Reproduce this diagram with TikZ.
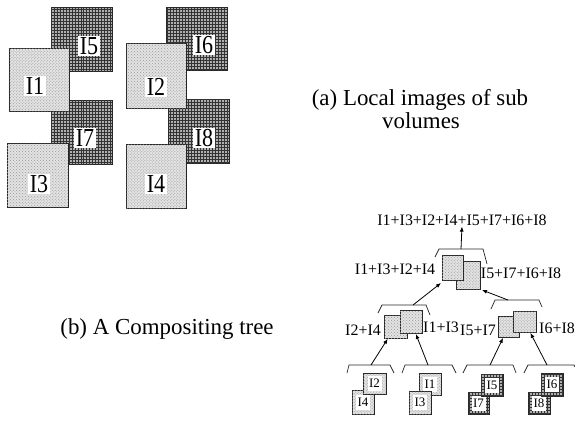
\documentclass[tikz,border=0pt]{standalone}
\usepackage{fontspec}
\setmainfont{Liberation Serif}
\usetikzlibrary{patterns,arrows.meta,calc}
\newcommand{\nx}[1]{\scalebox{0.85}[1]{#1}}
\begin{document}
\begin{tikzpicture}[x=1bp,y=-1bp,
  sz/.style 2 args={minimum width=#1bp, minimum height=#2bp},
  sqbase/.style={rectangle, inner sep=0pt, outer sep=0pt, draw=black!85, line width=0.7bp},
  lightsq/.style={sqbase, fill=gray!22, postaction={pattern=crosshatch dots, pattern color=gray!80}},
  darksq/.style={sqbase, fill=gray!62, postaction={pattern=grid, pattern color=black!80}},
  biglab/.style={fill=white, inner sep=1.5bp, font=\fontsize{26}{26}\selectfont},
  smlab/.style={fill=white, inner sep=0pt, minimum width=14bp, minimum height=15bp, font=\fontsize{13}{13}\selectfont},
  trlab/.style={inner sep=0pt, font=\fontsize{16}{16}\selectfont},
  captxt/.style={inner sep=0pt, font=\fontsize{23}{25}\selectfont},
  brk/.style={draw=black!85, line width=0.7bp},
  arr/.style={draw=black, line width=0.8bp, -{Latex[length=5bp,width=4bp]}},
]
\useasboundingbox (0,0) rectangle (575,425);
\fill[white] (0,0) rectangle (575,425);

% ---- (a) local images ----
\node[darksq, sz={61}{64}] (s5) at (81.5,39) {};
\node[darksq, sz={61}{64}] (s7) at (81.5,132) {};
\node[darksq, sz={61}{63}] (s6) at (196.5,38.5) {};
\node[darksq, sz={61}{64}] (s8) at (198.5,131) {};
\node[biglab] (l5) at (89,46) {\nx{I5}};
\node[biglab] (l7) at (85,138) {\nx{I7}};
\node[biglab] (l6) at (204,45) {\nx{I6}};
\node[biglab] (l8) at (204,138) {\nx{I8}};
\node[lightsq, sz={60}{63}] (s1) at (39,79.5) {};
\node[lightsq, sz={61}{64}] (s3) at (37.5,175) {};
\node[lightsq, sz={60}{65}] (s2) at (156,75.5) {};
\node[lightsq, sz={60}{64}] (s4) at (156,176) {};
\node[biglab] (l1) at (35,86) {\nx{I1}};
\node[biglab] (l3) at (39,184) {\nx{I3}};
\node[biglab] (l2) at (156,87) {\nx{I2}};
\node[biglab] (l4) at (156,184) {\nx{I4}};

\node[captxt, anchor=base] (capa1) at (420,105) {(a) Local images of sub};
\node[captxt, anchor=base] (capa2) at (421,128) {volumes};
\node[captxt, anchor=base] (capb) at (167,334) {(b) A Compositing tree};

% ---- (b) compositing tree ----
\node[trlab] (top) at (462,220) {I1+I3+I2+I4+I5+I7+I6+I8};
\draw[brk] (435,257) -- (439,249) -- (483,249) -- (487,264);
\coordinate (bt) at (461,249);
\draw[arr, shorten >=1bp] (bt) -- (top.south);

\node[lightsq, sz={24}{28}] (tb) at (468,275) {};
\node[lightsq, sz={21}{25}] (ta) at (452.5,267.5) {};
\node[trlab] (tl) at (395,269) {I1+I3+I2+I4};
\node[trlab] (tr) at (521,273) {I5+I7+I6+I8};

\draw[brk] (378,313) -- (382,305) -- (426,305) -- (430,315);
\coordinate (bml) at (413,305);
\draw[brk] (491,309) -- (495,300) -- (539,300) -- (542,307);
\coordinate (bmr) at (508,300);
\draw[arr] (bml) -- ($(ta.south west)+(-1,3)$);
\draw[arr] (bmr) -- ($(tb.south east)+(2,1)$);

\node[lightsq, sz={23}{23}] (ma) at (395.5,326.5) {};
\node[lightsq, sz={22}{23}] (mb) at (411,321.5) {};
\node[trlab] (mll) at (363,330) {I2+I4};
\node[trlab] (mlr) at (441,327) {I1+I3};

\node[lightsq, sz={21}{21}] (na) at (508.5,326.5) {};
\node[lightsq, sz={23}{21}] (nb) at (524.5,321.5) {};
\node[trlab] (mrl) at (478,330) {I5+I7};
\node[trlab] (mrr) at (557,328) {I6+I8};

\draw[brk] (347,373) -- (349,365) -- (390,365) -- (394,373);
\coordinate (b1t) at (371,365);
\draw[brk] (402,373) -- (405,365) -- (452,365) -- (456,373);
\coordinate (b2t) at (428,365);
\draw[brk] (463,373) -- (467,365) -- (513,365) -- (516,373);
\coordinate (b3t) at (490,365);
\draw[brk] (524,373) -- (528,365) -- (574,365) -- (575,367);
\coordinate (b4t) at (547,365);

\draw[arr, shorten >=1bp] (b1t) -- (ma);
\draw[arr, shorten >=1bp] (b2t) -- (mb);
\draw[arr, shorten >=1bp] (b3t) -- (na);
\draw[arr, shorten >=1bp] (b4t) -- (nb);

\node[lightsq, sz={22}{24}] (b4) at (363,402) {};
\node[smlab] (k4) at (363,402) {I4};
\node[lightsq, sz={23}{21}] (b2) at (374.5,383.5) {};
\node[smlab] (k2) at (374.5,383.5) {I2};
\node[lightsq, sz={22}{22}] (b1) at (430,384) {};
\node[smlab] (k1) at (430,384) {I1};
\node[lightsq, sz={22}{23}] (b3) at (420,402.5) {};
\node[smlab] (k3) at (420,402.5) {I3};
\node[darksq, sz={21}{22}] (b7) at (478.5,403) {};
\node[smlab] (k7) at (478.5,403) {I7};
\node[darksq, sz={22}{22}] (b5) at (492,385) {};
\node[smlab] (k5) at (492,385) {I5};
\node[darksq, sz={22}{22}] (b8) at (539,403) {};
\node[smlab] (k8) at (539,403) {I8};
\node[darksq, sz={22}{23}] (b6) at (552,384.5) {};
\node[smlab] (k6) at (552,384.5) {I6};
\end{tikzpicture}
\end{document}
